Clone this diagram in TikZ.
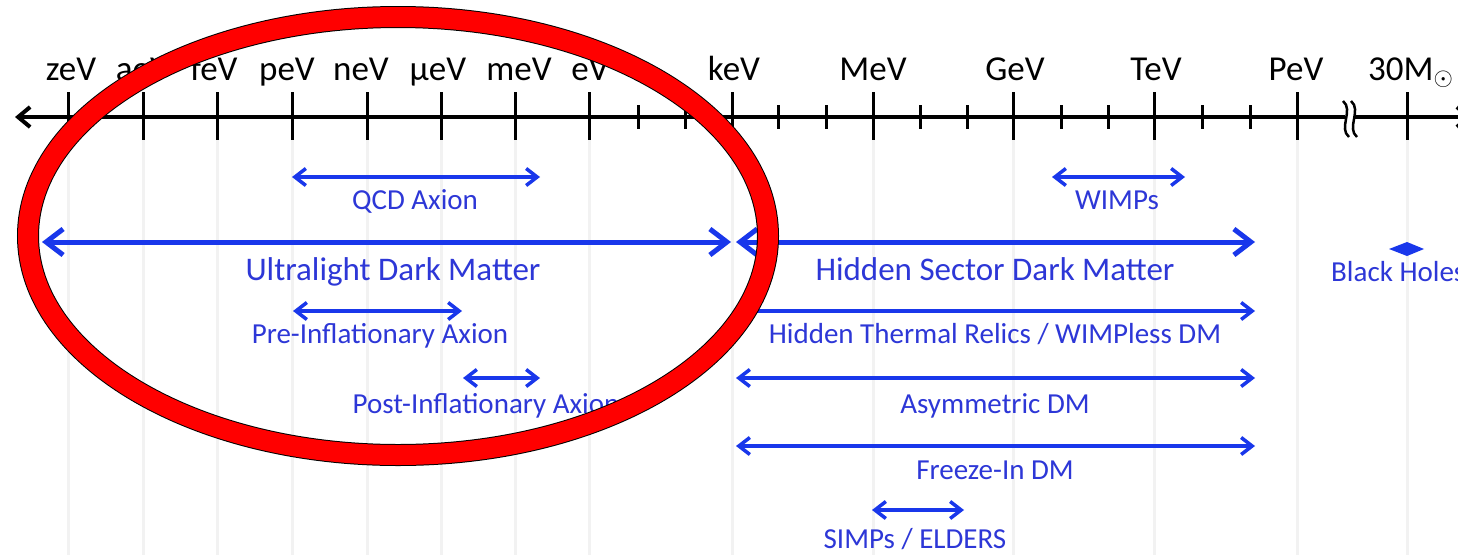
\documentclass[tikz,border=0pt]{standalone}
\usepackage{fontspec}
\setmainfont{Carlito}
\usetikzlibrary{arrows.meta}
\definecolor{abl}{RGB}{25,55,235}
\definecolor{tbl}{RGB}{45,55,215}
\definecolor{gridc}{RGB}{242,242,242}
\tikzset{
  axislbl/.style={anchor=base, font=\fontsize{35}{40}\selectfont, text=black, inner sep=0pt},
  biglbl/.style={anchor=base, font=\fontsize{33}{38}\selectfont, text=tbl, inner sep=0pt},
  smalllbl/.style={anchor=base, font=\fontsize{29}{34}\selectfont, text=tbl, inner sep=0pt},
  bigarr/.style={draw=abl, line width=5pt, >={Straight Barb[length=17pt,width=26pt]}, <->},
  smallarr/.style={draw=abl, line width=3.5pt, >={Straight Barb[length=11pt,width=17pt]}, <->},
  axisline/.style={draw=black, line width=4pt, >={Straight Barb[length=12pt,width=20pt]}, <->},
  majortick/.style={draw=black, line width=3pt},
  minortick/.style={draw=black, line width=3pt},
  gridline/.style={draw=gridc, line width=3pt},
  ringout/.style={draw=black, line width=22pt},
  ringin/.style={draw=red, line width=20pt},
  breakline/.style={draw=black, line width=2.5pt},
}
\begin{document}
\begin{tikzpicture}[x=1pt,y=-1pt]
\clip (0,0) rectangle (1458,555);
\fill[white] (0,0) rectangle (1458,555);
% grid lines
\foreach \x/\n in {68/zeV,143/aeV,217/feV,292/peV,367/neV,441/ueV,515/meV,589/eV,732/keV,873/MeV,1013/GeV,1154/TeV,1297/PeV,1407/Msun}{
  \draw[gridline] (\x,140) -- (\x,555);
}
% axis
\coordinate (axL) at (15,117);
\coordinate (axR) at (1472,117);
\draw[axisline] (axL) -- (axR);
\foreach \x/\n in {68/zeV,143/aeV,217/feV,292/peV,367/neV,441/ueV,515/meV,589/eV,732/keV,873/MeV,1013/GeV,1154/TeV,1297/PeV,1407/Msun}{
  \coordinate (t\n) at (\x,117);
  \draw[majortick] (\x,92) -- (\x,140);
}
\foreach \x in {638,685,778,826,920,967,1061,1108,1202,1250}{
  \draw[minortick] (\x,105) -- (\x,129);
}
% axis break
\fill[white] (1345,112) rectangle (1355,122);
\draw[breakline] (1343,101) .. controls (1354,110) and (1338,128) .. (1349,137);
\draw[breakline] (1351,101) .. controls (1362,110) and (1346,128) .. (1357,137);
% axis labels
\node[axislbl] (lzeV) at (71,80) {zeV};
\node[axislbl] (laeV) at (143,80) {aeV};
\node[axislbl] (lfeV) at (214,80) {feV};
\node[axislbl] (lpeV) at (287,80) {peV};
\node[axislbl] (lneV) at (361,80) {neV};
\node[axislbl] (lueV) at (438,80) {μeV};
\node[axislbl] (lmeV) at (519,80) {meV};
\node[axislbl] (leV) at (590,80) {eV};
\node[axislbl] (lkeV) at (734,80) {keV};
\node[axislbl] (lMeV) at (873,80) {MeV};
\node[axislbl] (lGeV) at (1015,80) {GeV};
\node[axislbl] (lTeV) at (1156,80) {TeV};
\node[axislbl] (lPeV) at (1296,80) {PeV};
\node[axislbl, anchor=base west] (lMsun) at (1368,80) {30M$_{\odot}$};
% arrows
\coordinate (qcdA) at (292,177); \coordinate (qcdB) at (540,177);
\coordinate (wimA) at (1052,177); \coordinate (wimB) at (1185,177);
\coordinate (uldA) at (42,242); \coordinate (uldB) at (731,242);
\coordinate (hsdA) at (736,242); \coordinate (hsdB) at (1255,242);
\coordinate (preA) at (293,311); \coordinate (preB) at (462,311);
\coordinate (htrA) at (736,311); \coordinate (htrB) at (1255,311);
\coordinate (posA) at (463,378); \coordinate (posB) at (540,378);
\coordinate (asyA) at (736,378); \coordinate (asyB) at (1255,378);
\coordinate (frzA) at (736,446); \coordinate (frzB) at (1255,446);
\coordinate (simA) at (872,510); \coordinate (simB) at (964,510);
\draw[smallarr] (qcdA) -- (qcdB);
\draw[smallarr] (wimA) -- (wimB);
\draw[bigarr] (uldA) -- (uldB);
\draw[bigarr] (hsdA) -- (hsdB);
\draw[smallarr] (preA) -- (preB);
\draw[smallarr] (htrA) -- (htrB);
\draw[smallarr] (posA) -- (posB);
\draw[smallarr] (asyA) -- (asyB);
\draw[smallarr] (frzA) -- (frzB);
\draw[smallarr] (simA) -- (simB);
% labels
\node[smalllbl] (qcd) at (415,209) {QCD Axion};
\node[smalllbl] (wimps) at (1117,209) {WIMPs};
\node[biglbl] (uld) at (393,280) {Ultralight Dark Matter};
\node[biglbl] (hsd) at (995,280) {Hidden Sector Dark Matter};
\node[smalllbl, anchor=base west] (bh) at (1331,281) {Black Holes};
\node[smalllbl] (pre) at (380,343) {Pre-Inflationary Axion};
\node[smalllbl] (htr) at (995,343) {Hidden Thermal Relics / WIMPless DM};
\node[smalllbl] (post) at (486,413) {Post-Inflationary Axion};
\node[smalllbl] (asy) at (995,413) {Asymmetric DM};
\node[smalllbl] (frz) at (995,479) {Freeze-In DM};
\node[smalllbl] (sim) at (915,548) {SIMPs / ELDERS};
% black hole marker
\fill[abl] (1389,249) -- (1407,242) -- (1424,249) -- (1407,256) -- cycle;
\coordinate (bhmark) at (1407,249);
% red ellipse
\draw[ringout] (398,236) ellipse [x radius=370, y radius=219];
\draw[ringin] (398,236) ellipse [x radius=370, y radius=219];
\end{tikzpicture}
\end{document}
